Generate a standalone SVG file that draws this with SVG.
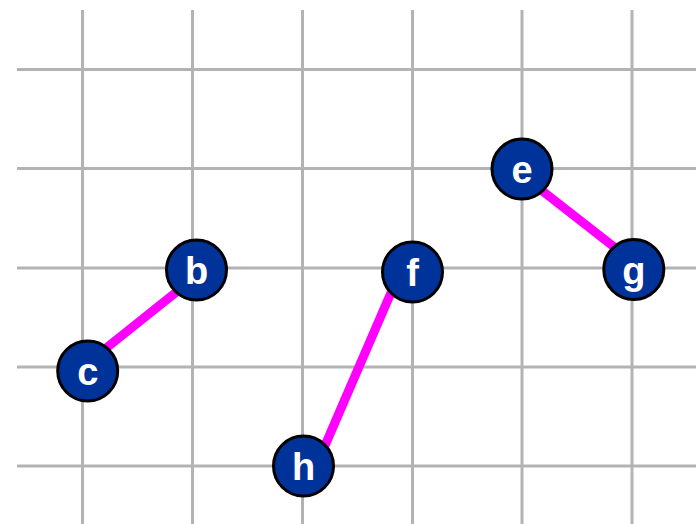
<svg xmlns="http://www.w3.org/2000/svg" width="696" height="524" viewBox="0 0 696 524">
<style>
.grid line{stroke:#b3b3b3;stroke-width:3}
.edge{stroke:#ff00ff;stroke-width:9}
.node circle{fill:#003399;stroke:#000;stroke-width:3}
.node text{fill:#fff;font-family:"Liberation Sans",Arial,sans-serif;font-weight:bold;font-size:38px;text-anchor:middle}
</style>
<rect width="696" height="524" fill="#fff"/>
<g class="grid">
<line x1="82.5" y1="10" x2="82.5" y2="524"/>
<line x1="192.5" y1="10" x2="192.5" y2="524"/>
<line x1="302.5" y1="10" x2="302.5" y2="524"/>
<line x1="412.5" y1="10" x2="412.5" y2="524"/>
<line x1="522" y1="10" x2="522" y2="524"/>
<line x1="632" y1="10" x2="632" y2="524"/>
<line x1="17" y1="69.5" x2="696" y2="69.5"/>
<line x1="17" y1="168.5" x2="696" y2="168.5"/>
<line x1="17" y1="268" x2="696" y2="268"/>
<line x1="17" y1="367" x2="696" y2="367"/>
<line x1="17" y1="466" x2="696" y2="466"/>
</g>
<g id="connectors">
<line class="edge" x1="102.2" y1="351.2" x2="184.5" y2="285.5"/>
<line class="edge" x1="322.7" y1="450.9" x2="394" y2="285.8"/>
<line class="edge" x1="535.4" y1="185.5" x2="619.6" y2="251.2"/>
</g>
<g id="node-c" class="node"><circle cx="87.7" cy="371" r="30"/><text x="87.7" y="385">c</text></g>
<g id="node-b" class="node"><circle cx="196.5" cy="270" r="30"/><text x="196.5" y="284">b</text></g>
<g id="node-h" class="node"><circle cx="303.5" cy="466" r="30"/><text x="303.5" y="480">h</text></g>
<g id="node-f" class="node"><circle cx="412.5" cy="272" r="30"/><text x="412.5" y="286">f</text></g>
<g id="node-e" class="node"><circle cx="522" cy="169" r="30"/><text x="522" y="183">e</text></g>
<g id="node-g" class="node"><circle cx="633.8" cy="269.5" r="30"/><text x="633.8" y="283.5">g</text></g>
</svg>
